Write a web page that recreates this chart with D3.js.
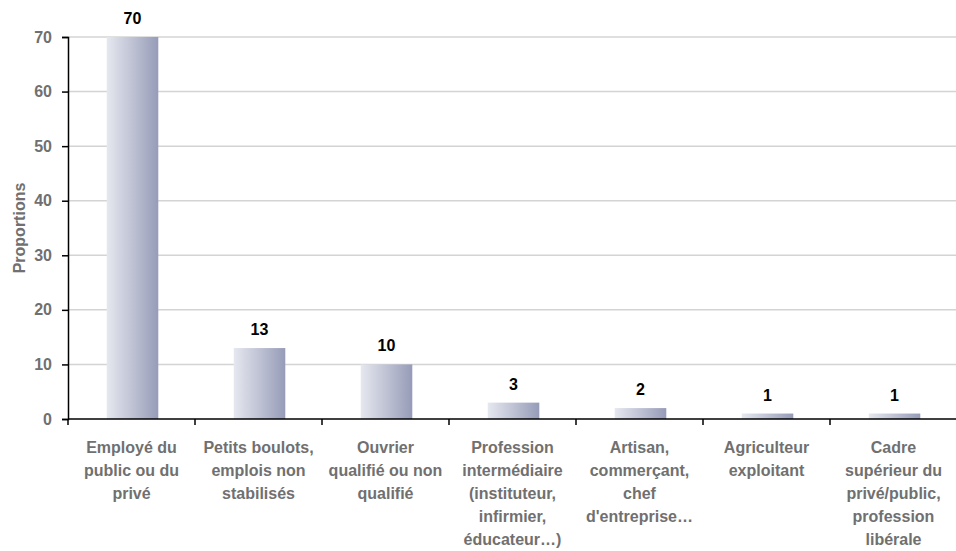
<!DOCTYPE html>
<html>
<head>
<meta charset="utf-8">
<script src="https://cdn.jsdelivr.net/npm/d3@7"></script>
<style>
  body { margin: 0; background: #fff; }
  text { font-family: "Liberation Sans", Arial, sans-serif; font-weight: bold; }
</style>
</head>
<body>
<div id="chart"></div>
<script>
// categories, split on lines as in the picture
var categories = [
  ["Employé du", "public ou du", "privé"],
  ["Petits boulots,", "emplois non", "stabilisés"],
  ["Ouvrier", "qualifié ou non", "qualifié"],
  ["Profession", "intermédiaire", "(instituteur,", "infirmier,", "éducateur…)"],
  ["Artisan,", "commerçant,", "chef", "d'entreprise…"],
  ["Agriculteur", "exploitant"],
  ["Cadre", "supérieur du", "privé/public,", "profession", "libérale"]
];
var values = [70, 13, 10, 3, 2, 1, 1];
var yTicks = [0, 10, 20, 30, 40, 50, 60, 70];

var width = 956, height = 551;
var margin = {top: 37, right: 0, bottom: 132, left: 68};

var svg = d3.select("#chart").append("svg")
    .attr("width", width)
    .attr("height", height);

var grad = svg.append("defs").append("linearGradient")
    .attr("id", "barGrad")
    .attr("x1", "0%").attr("x2", "100%").attr("y1", "0%").attr("y2", "0%");
grad.append("stop").attr("offset", "0%").attr("stop-color", "#e6e8ef");
grad.append("stop").attr("offset", "100%").attr("stop-color", "#969cb8");

var band = d3.scaleBand()
    .domain(d3.range(values.length))
    .range([margin.left, 957]);

var y = d3.scaleLinear()
    .domain([0, 70])
    .range([height - margin.bottom, margin.top]);

// grid
svg.append("g").selectAll("line")
  .data(yTicks.slice(1))
  .enter().append("line")
    .attr("x1", margin.left)
    .attr("x2", width)
    .attr("y1", function(d) { return y(d); })
    .attr("y2", function(d) { return y(d); })
    .attr("stroke", "#d4d4d4")
    .attr("stroke-width", 1.5);

// bars
svg.append("g").selectAll("rect")
  .data(values)
  .enter().append("rect")
    .attr("x", function(d, i) { return band(i) + band.bandwidth() * 0.305; })
    .attr("width", band.bandwidth() * 0.406)
    .attr("y", function(d) { return y(d); })
    .attr("height", function(d) { return y(0) - y(d); })
    .attr("fill", "url(#barGrad)");

// value labels
svg.append("g").selectAll("text")
  .data(values)
  .enter().append("text")
    .attr("x", function(d, i) { return band(i) + band.bandwidth() * 0.508; })
    .attr("y", function(d) { return y(d) - 13; })
    .attr("text-anchor", "middle")
    .attr("font-size", "16px")
    .attr("fill", "#000")
    .text(function(d) { return d; });

// y axis
var yAxis = svg.append("g")
    .attr("transform", "translate(" + margin.left + ",0)")
    .call(d3.axisLeft(y).tickValues(yTicks).tickSize(6).tickPadding(10));
yAxis.select(".domain").attr("stroke", "#000").attr("stroke-width", 1.5);
yAxis.selectAll(".tick line").attr("stroke", "#000").attr("stroke-width", 1.5);
yAxis.selectAll(".tick text")
    .attr("font-size", "16px")
    .attr("font-family", "Liberation Sans, Arial, sans-serif")
    .attr("font-weight", "bold")
    .attr("fill", "#707070");

// x axis line + ticks at band boundaries
svg.append("line")
    .attr("x1", margin.left).attr("x2", width)
    .attr("y1", y(0)).attr("y2", y(0))
    .attr("stroke", "#000").attr("stroke-width", 1.5);
svg.append("g").selectAll("line")
  .data(d3.range(values.length))
  .enter().append("line")
    .attr("x1", function(i) { return band(i); })
    .attr("x2", function(i) { return band(i); })
    .attr("y1", y(0)).attr("y2", y(0) + 6)
    .attr("stroke", "#000").attr("stroke-width", 1.5);

// category labels
var cat = svg.append("g").selectAll("text")
  .data(categories)
  .enter().append("text")
    .attr("x", function(d, i) { return band(i) + band.bandwidth() / 2; })
    .attr("y", 453)
    .attr("text-anchor", "middle")
    .attr("font-size", "16px")
    .attr("fill", "#707070");
cat.selectAll("tspan")
  .data(function(d) { return d; })
  .enter().append("tspan")
    .attr("x", function() { return d3.select(this.parentNode).attr("x"); })
    .attr("dy", function(d, i) { return i === 0 ? 0 : 23; })
    .text(function(d) { return d; });

// y title
svg.append("text")
    .attr("transform", "translate(25," + y(35) + ") rotate(-90)")
    .attr("text-anchor", "middle")
    .attr("font-size", "16px")
    .attr("fill", "#707070")
    .text("Proportions");
</script>
</body>
</html>
